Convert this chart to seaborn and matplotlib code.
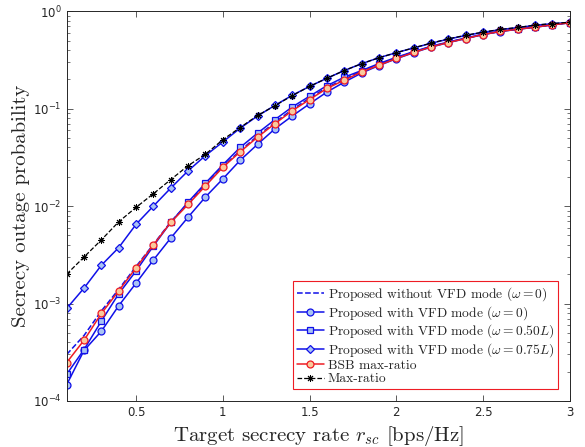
import numpy as np
import pandas as pd
import seaborn as sns
import matplotlib.pyplot as plt

# Hedef gizlilik hızı (x ekseni)
rate = [0.1, 0.2, 0.3, 0.4, 0.5, 0.6, 0.7, 0.8, 0.9, 1.0,
        1.1, 1.2, 1.3, 1.4, 1.5, 1.6, 1.7, 1.8, 1.9, 2.0,
        2.1, 2.2, 2.3, 2.4, 2.5, 2.6, 2.7, 2.8, 2.9, 3.0]

# Eğrilerin değerleri
no_vfd = [3.0e-4, 4.7e-4, 8.4e-4, 1.4e-3, 2.4e-3, 4.05e-3, 6.9e-3, 1.07e-2, 1.65e-2, 2.55e-2,
          3.7e-2, 5.25e-2, 7.2e-2, 9.8e-2, 0.128, 0.165, 0.2, 0.242, 0.284, 0.332,
          0.381, 0.433, 0.48, 0.527, 0.578, 0.621, 0.654, 0.686, 0.725, 0.761]
vfd_0 = [1.47e-4, 3.3e-4, 5.2e-4, 9.5e-4, 1.62e-3, 2.8e-3, 4.7e-3, 7.7e-3, 1.24e-2, 1.9e-2,
         2.95e-2, 4.3e-2, 6.2e-2, 8.4e-2, 0.112, 0.148, 0.187, 0.232, 0.277, 0.325,
         0.375, 0.428, 0.476, 0.523, 0.575, 0.618, 0.652, 0.685, 0.723, 0.76]
vfd_050 = [1.88e-4, 3.37e-4, 6.6e-4, 1.26e-3, 2.16e-3, 3.9e-3, 6.8e-3, 1.1e-2, 1.72e-2, 2.65e-2,
           4.0e-2, 5.6e-2, 7.7e-2, 0.104, 0.134, 0.172, 0.21, 0.246, 0.29, 0.336,
           0.385, 0.436, 0.483, 0.53, 0.58, 0.622, 0.656, 0.688, 0.726, 0.762]
vfd_075 = [8.9e-4, 1.44e-3, 2.47e-3, 3.75e-3, 6.5e-3, 1.0e-2, 1.53e-2, 2.3e-2, 3.3e-2, 4.55e-2,
           6.3e-2, 8.4e-2, 0.108, 0.137, 0.169, 0.205, 0.246, 0.289, 0.333, 0.375,
           0.42, 0.468, 0.517, 0.563, 0.607, 0.647, 0.678, 0.716, 0.744, 0.768]
bsb = [2.48e-4, 4.2e-4, 7.9e-4, 1.35e-3, 2.33e-3, 4.0e-3, 6.8e-3, 1.04e-2, 1.61e-2, 2.5e-2,
       3.6e-2, 5.1e-2, 7.0e-2, 9.5e-2, 0.124, 0.161, 0.196, 0.238, 0.279, 0.327,
       0.377, 0.43, 0.477, 0.524, 0.576, 0.62, 0.653, 0.685, 0.724, 0.76]
max_ratio = [2.0e-3, 3.0e-3, 4.5e-3, 6.9e-3, 9.7e-3, 1.34e-2, 1.87e-2, 2.6e-2, 3.4e-2, 4.8e-2,
             6.4e-2, 8.5e-2, 0.107, 0.136, 0.169, 0.205, 0.246, 0.289, 0.333, 0.375,
             0.42, 0.47, 0.52, 0.566, 0.61, 0.65, 0.68, 0.72, 0.746, 0.77]

sns.set_style("ticks")
plt.rcParams['mathtext.fontset'] = 'cm'

blue = '#1010e8'
light_blue = '#a9c3f3'
red = '#ee1c24'
light_red = '#fac99c'

fig, ax = plt.subplots(figsize=(5.85, 4.47), dpi=100)
fig.subplots_adjust(left=0.114, right=0.974, top=0.975, bottom=0.103)

sns.lineplot(x=rate, y=no_vfd, ax=ax, color=blue, lw=1.1, linestyle='--',
             label=r'Proposed without VFD mode ($\omega = 0$)')
sns.lineplot(x=rate, y=vfd_0, ax=ax, color=blue, lw=1.1, marker='o', ms=5,
             mfc=light_blue, mec=blue, mew=0.9,
             label=r'Proposed with VFD mode ($\omega = 0$)')
sns.lineplot(x=rate, y=vfd_050, ax=ax, color=blue, lw=1.1, marker='s', ms=4.5,
             mfc=light_blue, mec=blue, mew=0.9,
             label=r'Proposed with VFD mode ($\omega = 0.50L$)')
sns.lineplot(x=rate, y=vfd_075, ax=ax, color=blue, lw=1.1, marker='D', ms=4.3,
             mfc=light_blue, mec=blue, mew=0.9,
             label=r'Proposed with VFD mode ($\omega = 0.75L$)')
sns.lineplot(x=rate, y=bsb, ax=ax, color=red, lw=1.1, marker='o', ms=5,
             mfc=light_red, mec=red, mew=0.9,
             label='BSB max-ratio')
sns.lineplot(x=rate, y=max_ratio, ax=ax, color='black', lw=0.9, linestyle='--',
             dashes=(4, 3), marker=(8, 2, 0), ms=5, mec='black', mew=0.7,
             label='Max-ratio')

ax.set_yscale('log')
ax.set_xlim(0.1, 3)
ax.set_ylim(1e-4, 1)
ax.set_xticks([0.5, 1, 1.5, 2, 2.5, 3])
ax.set_xticklabels(['0.5', '1', '1.5', '2', '2.5', '3'])

ax.tick_params(which='both', direction='in', top=True, right=True,
               colors='#404040', labelsize=8.5, labelcolor='#262626')
ax.tick_params(which='major', length=4, width=0.6)
ax.tick_params(which='minor', length=2.5, width=0.5)
for sp in ax.spines.values():
    sp.set_color('#262626')
    sp.set_linewidth(0.7)

ax.set_xlabel(r'Target secrecy rate $r_{sc}$ [bps/Hz]', family='cmr10', fontsize=15)
ax.set_ylabel('Secrecy outage probability', family='cmr10', fontsize=15, labelpad=2)

leg = ax.legend(loc='lower right', bbox_to_anchor=(0.977, 0.03),
                prop={'family': 'cmr10', 'size': 9.7},
                fancybox=False, framealpha=1, edgecolor=red,
                handlelength=2.0, handletextpad=0.3, borderpad=0.3,
                labelspacing=0.06, borderaxespad=0)
leg.get_frame().set_linewidth(0.8)

plt.savefig('out.png', dpi=100)
